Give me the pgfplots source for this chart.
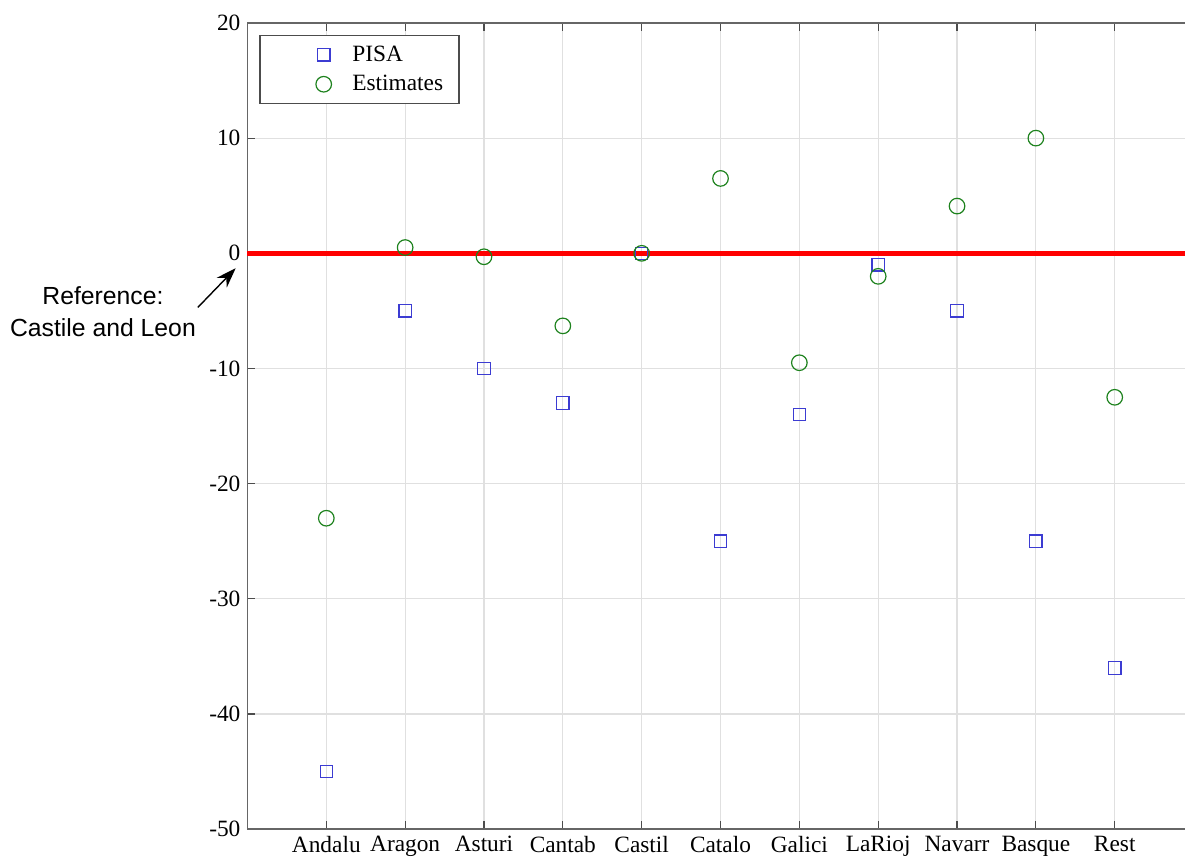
\documentclass[border=0pt]{standalone}
\usepackage{pgfplots}
\pgfplotsset{compat=1.18}
\usepackage{fontspec}
\setmainfont{Liberation Serif}
\newfontfamily\arialfont{Liberation Sans}
\usetikzlibrary{arrows.meta}
\definecolor{pisablue}{RGB}{60,60,210}
\definecolor{estgreen}{RGB}{30,130,30}
\begin{document}
\begin{tikzpicture}
\begin{axis}[
  name=ax,
  scale only axis,
  width=469.5pt, height=404pt,
  xmin=-1, xmax=10.885,
  ymin=-50, ymax=20,
  ytick={-50,-40,...,20},
  xtick={0,...,10},
  xticklabels={Andalu,Aragon,Asturi,Cantab,Castil,Catalo,Galici,LaRioj,Navarr,Basque,Rest},
  axis x line*=box,
  axis y line*=left,
  axis line style={draw=black!60, line width=0.8pt},
  grid=major,
  major grid style={draw=black!12, line width=0.6pt},
  tick align=inside,
  major tick length=4pt,
  tick style={draw=black!70, line width=0.6pt},
  tick label style={font=\fontsize{11.7}{13}\selectfont},
  /pgf/number format/assume math mode=true,
  clip=false,
  legend style={at={(rel axis cs:0,1)}, anchor=north west, xshift=6pt, yshift=-6pt,
    draw=black!70, line width=0.7pt, font=\fontsize{11.7}{14}\selectfont,
    inner xsep=6pt, inner ysep=4pt, row sep=3.5pt,
    nodes={inner xsep=2pt, inner ysep=1pt}},
  legend image code/.code={\path (0pt,0pt) (37.5pt,0pt); \draw[#1] plot coordinates {(25.5pt,0pt)};},
  legend cell align=left,
]
\addplot[draw=red, line width=2.5pt, forget plot] coordinates {(-1,0) (10.885,0)};
\addplot[only marks, mark=square, mark size=3.1pt, draw=pisablue, mark options={line width=0.6pt}]
 coordinates {(0,-45) (1,-5) (2,-10) (3,-13) (4,0) (5,-25) (6,-14) (7,-1) (8,-5) (9,-25) (10,-36)};
\addlegendentry{PISA}
\addplot[only marks, mark=o, mark size=3.9pt, draw=estgreen, mark options={line width=0.6pt}]
 coordinates {(0,-23) (1,0.5) (2,-0.3) (3,-6.3) (4,0) (5,6.5) (6,-9.5) (7,-2) (8,4.1) (9,10) (10,-12.5)};
\addlegendentry{Estimates}
\draw[-{Stealth[length=10pt,width=7pt]}, line width=0.7pt] (axis cs:-1.63,-4.7) -- (axis cs:-1.15,-1.3);
\node[anchor=east, align=center, font=\arialfont\fontsize{12.4}{16}\selectfont, inner sep=0pt] at (axis cs:-1.65,-5.1) {Reference:\\Castile and Leon};
\end{axis}
\useasboundingbox ([xshift=-124pt, yshift=-18.5pt]ax.south west) rectangle ([yshift=11.5pt]ax.north east);
\end{tikzpicture}
\end{document}
